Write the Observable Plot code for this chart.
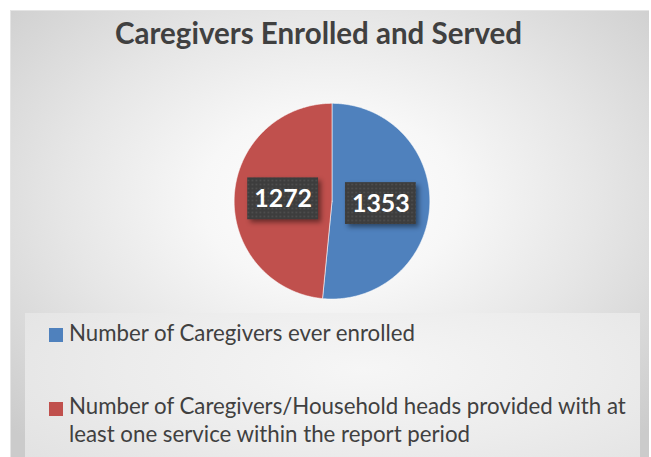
<!DOCTYPE html>
<html><head><meta charset="utf-8">
<script src="https://cdn.jsdelivr.net/npm/d3@7"></script>
<script src="https://cdn.jsdelivr.net/npm/@observablehq/plot@0.6"></script>
<style>
html,body{margin:0;padding:0;background:#fff;width:651px;height:457px;overflow:hidden;font-family:Lato,"Open Sans",sans-serif;}
#panel{position:absolute;left:10px;top:10px;width:639px;height:447px;
  background:radial-gradient(ellipse 72% 72% at 50% 42%, #ffffff 0%, #f7f7f7 28%, #e6e6e6 58%, #cbcbcb 100%);
  border-left:1px solid #e4e4e4;border-top:1px solid #e4e4e4;box-sizing:border-box;overflow:hidden;}
#title{position:absolute;white-space:nowrap;font-weight:bold;color:#404040;line-height:1;}
#chart{position:absolute;left:0;top:0;}
#legend{position:absolute;left:14px;top:302px;width:615px;height:160px;
  background:radial-gradient(ellipse 70% 90% at 55% 35%, #f6f6f6 0%, #ececec 55%, #e2e2e2 100%);}
.item{position:absolute;left:0;color:#404040;line-height:28px;}
.sw{position:absolute;width:14px;height:14px;}
.txt{position:absolute;left:44px;width:570px;}
</style></head>
<body>
<div id="panel">
  <div id="title"></div>
  <div id="chart"></div>
  <div id="legend"></div>
</div>
<script>
const chartTitle = "Caregivers Enrolled and Served";
const categories = [
  "Number of Caregivers ever enrolled",
  "Number of Caregivers/Household heads provided with at least one service within the report period"
];
const values = [1353, 1272];
const colors = ["#4F81BD", "#C0504D"];

// ---- pie geometry from data ----
const arcs = d3.pie().sort(null).value(d => d)(values);
const slicePts = [];
arcs.forEach((a, i) => {
  slicePts.push({category: categories[i], x: 0, y: 0});
  const n = Math.max(2, Math.ceil((a.endAngle - a.startAngle) / (Math.PI / 360)));
  for (let k = 0; k <= n; k++) {
    const t = a.startAngle + (a.endAngle - a.startAngle) * k / n;
    slicePts.push({category: categories[i], x: Math.sin(t), y: Math.cos(t)});
  }
  slicePts.push({category: categories[i], x: 0, y: 0});
});
const labels = arcs.map((a, i) => {
  const m = (a.startAngle + a.endAngle) / 2;
  return {value: values[i], x: 0.5 * Math.sin(m), y: 0.5 * Math.cos(m)};
});
const hx = 0.362, hy = 0.214;

const chart = Plot.plot({
  width: 639, height: 300, margin: 0,
  style: {background: "transparent", overflow: "visible"},
  x: {domain: [-1, 1], range: [223, 419], axis: null},
  y: {domain: [-1, 1], range: [288, 92], axis: null},
  color: {domain: categories, range: colors},
  marks: [
    Plot.line(slicePts, {x: "x", y: "y", z: "category", fill: "category", stroke: "white", strokeWidth: 0.8, strokeOpacity: 0.7, curve: "linear"}),
    Plot.rect(labels, {x1: d => d.x - hx, x2: d => d.x + hx, y1: d => d.y - hy, y2: d => d.y + hy, fill: "#404040"}),
    Plot.text(labels, {x: "x", y: "y", text: d => String(d.value), fill: "white", fontWeight: "bold", fontSize: 25, fontFamily: "Lato"})
  ]
});
document.getElementById("chart").appendChild(chart);

// dotted pattern + shadow on label boxes
const ns = "http://www.w3.org/2000/svg";
const defs = document.createElementNS(ns, "defs");
defs.innerHTML = '<pattern id="dots" width="4" height="4" patternUnits="userSpaceOnUse"><rect width="4" height="4" fill="#3d3d3d"/><rect x="1" y="1" width="1.4" height="1.4" fill="#575757"/></pattern>';
chart.insertBefore(defs, chart.firstChild);
chart.querySelectorAll("g[aria-label='rect']").forEach(g => {
  g.setAttribute("fill", "url(#dots)");
  g.querySelectorAll("rect").forEach(r => r.setAttribute("fill", "url(#dots)"));
  g.style.filter = "drop-shadow(3px 3px 2.5px rgba(0,0,0,0.45))";
});

// ---- title, fitted ----
const ASC = 0.387; // (ascent - descent)/2 for Lato
const title = document.getElementById("title");
title.textContent = chartTitle;
title.style.fontSize = "26px";
let w = title.getBoundingClientRect().width;
let F = 26 * 407 / w;
title.style.fontSize = F + "px";
w = title.getBoundingClientRect().width;
title.style.left = (317.5 - 10 - w / 2) + "px";
title.style.top = (43.3 - 10 - (F / 2 + ASC * F)) + "px";

// ---- legend ----
const legend = document.getElementById("legend");
const probe = document.createElement("span");
probe.style.cssText = "position:absolute;white-space:nowrap;visibility:hidden;font-size:20px";
probe.textContent = categories[0];
legend.appendChild(probe);
const LF = 20 * 346 / probe.getBoundingClientRect().width;
legend.removeChild(probe);
const baselines = [340.7, 414];
const swTops = [327, 401];
categories.forEach((c, i) => {
  const item = document.createElement("div");
  item.className = "item";
  item.style.fontSize = LF + "px";
  item.style.top = (baselines[i] - 312 - (14 + ASC * LF)) + "px";
  item.style.left = "24px";
  const sw = document.createElement("div");
  sw.className = "sw";
  sw.style.background = colors[i];
  sw.style.left = "0px";
  sw.style.top = (swTops[i] - 312 - (baselines[i] - 312 - (14 + ASC * LF))) + "px";
  const tx = document.createElement("div");
  tx.className = "txt";
  tx.style.left = "20px";
  tx.textContent = c;
  item.appendChild(sw);
  item.appendChild(tx);
  legend.appendChild(item);
});
</script>
</body></html>
